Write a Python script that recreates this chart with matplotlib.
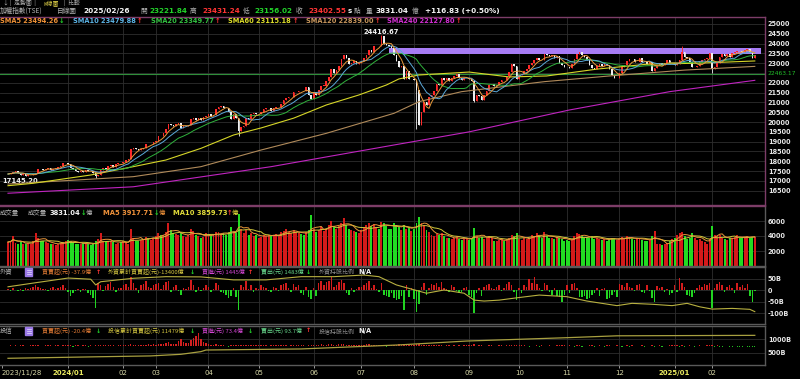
import numpy as np
import pandas as pd
import matplotlib
matplotlib.use("Agg")
import matplotlib.pyplot as plt
from matplotlib.patches import Rectangle
from matplotlib.lines import Line2D

plt.rcParams["font.family"] = ["Noto Sans CJK TC", "DejaVu Sans"]

W, H = 800, 379
PLOT_RIGHT = 765          # right edge of the plotting area, px
PX_PER_BAR = 2.506
FIRST_BAR_PX = 8.0

# trading days per month, 2023/11/28 .. 2025/02/26
MONTH_LABELS = ["2023/11/28", "", "2024/01", "02", "03", "04", "05", "06",
                "07", "08", "09", "10", "11", "12", "2025/01", "02"]
DAYS_PER_MONTH = [3, 21, 22, 13, 21, 20, 22, 19, 21, 22, 20, 19, 21, 22, 15, 18]

# daily close (加權指數)
CLOSE = [
    17350, 17390, 17434,
    17480, 17380, 17310, 17370, 17270, 17290, 17310, 17350, 17380, 17610, 17600,
    17570, 17610, 17650, 17560, 17630, 17650, 17690, 17780, 17910, 17931,
    17853, 17641, 17600, 17520, 17470, 17520, 17430, 17550, 17510, 17480, 17380,
    17230, 17320, 17560, 17680, 17630, 17760, 17790, 17700, 17860, 17900, 17890,
    17940, 18070, 18100, 18640, 18700, 18620, 18580, 18650, 18700, 18890, 18880, 18900, 18960,
    19030, 19300, 19290, 19420, 19650, 19900, 19830, 19820, 19880, 19930, 19680,
    19780, 19810, 19830, 20180, 20230, 20100, 20200, 20130, 20250, 20294,
    20400, 20320, 20340, 20670, 20790, 20800, 20740, 20700, 20520, 20140,
    20390, 20200, 19530, 19750, 19800, 20200, 20140, 20430, 20460, 20400,
    20420, 20520, 20650, 20700, 20700, 20560, 20700, 20770, 20770, 20900, 21100,
    21250, 21260, 21290, 21510, 21520, 21600, 21590, 21580, 21800, 21400, 21174,
    21540, 21360, 21640, 21860, 21860, 22110, 22320, 22680, 22500, 22630,
    22870, 23200, 23400, 23250, 22950, 23000, 23100, 22980, 23030,
    23100, 23250, 23400, 23650, 23560, 23880, 23900, 23880, 24390, 24000, 23920,
    23890, 23770, 23400, 23090, 22830, 22870, 22200, 22580, 22190, 22200,
    22120, 21640, 19830, 20500, 21020, 20880, 21260, 21370, 21570, 21920, 21880,
    22250, 22160, 22240, 22080, 22240, 22330, 22470, 22230, 22150, 22250, 22270,
    22200, 22090, 21090, 21370, 21330, 21150, 21370, 21570, 21870, 21930,
    21850, 21880, 22030, 22160, 22150, 22330, 22570, 22970, 22840, 22220,
    22400, 22450, 22600, 22700, 22900, 23030, 23170, 23290, 23160, 23140,
    23490, 23430, 23380, 23400, 23260, 23350, 23000, 22900, 22820,
    22800, 22780, 22980, 23200, 23480, 23550, 23410, 23330, 23150, 22930, 22740,
    22700, 22840, 22940, 22840, 22950, 22920, 22690, 22380, 22260, 22260,
    22500, 22800, 22900, 23120, 23200, 23190, 23070, 23070, 23260, 23060, 23050,
    22980, 23050, 22620, 22760, 22920, 23030, 22900, 23000, 23150, 22990, 23035,
    22900, 22980, 23160, 23550, 23300, 23290, 23080, 22800, 22820, 22850,
    23050, 23150, 23200, 23270, 23525,
    22694, 22800, 23000, 23300, 23480, 23380, 23450, 23330, 23520, 23550,
    23630, 23600, 23590, 23680, 23730, 23560, 23286, 23402.55,
]

# a few visible shadows: bar index, low, high
WICK_BARS = [35, 92, 149, 163, 186, 269, 281]
WICK_LOW = [17145.20, 19300, 23880, 19662, 21000, 23160, 22500]
WICK_HIGH = [17380, 19980, 24416.67, 21640, 22090, 23900, 22900]

# 成交量, in hundreds of 億
VOL_HUNDREDS = [
    32, 33, 40,
    31, 30, 32, 29, 30, 31, 30, 33, 44, 38, 34, 33, 32, 31, 30, 29, 28, 30, 31, 32, 33,
    35, 34, 31, 30, 29, 30, 31, 30, 29, 28, 30, 33, 36, 44, 33, 32, 33, 34, 32, 30, 31, 32,
    33, 32, 30, 50, 38, 34, 33, 35, 36, 39, 37, 35, 38,
    40, 44, 42, 41, 45, 57, 48, 44, 43, 42, 45, 40, 39, 41, 49, 47, 41, 40, 38, 39, 44,
    42, 40, 41, 46, 45, 43, 44, 42, 45, 52, 46, 44, 70, 50, 44, 48, 42, 44, 40, 41,
    38, 39, 42, 40, 41, 40, 42, 43, 40, 45, 47, 50, 46, 44, 48, 45, 44, 43, 41, 46, 48, 68,
    50, 46, 48, 52, 47, 50, 55, 60, 52, 50, 54, 58, 64, 55, 50, 48, 47, 46, 44,
    48, 52, 55, 58, 54, 56, 52, 50, 59, 58, 53, 50, 49, 57, 55, 52, 48, 55, 50, 52, 47,
    50, 57, 66, 58, 55, 48, 45, 42, 40, 43, 42, 44, 40, 38, 37, 36, 37, 40, 36, 35, 36, 38,
    35, 37, 51, 40, 38, 39, 36, 38, 40, 37, 34, 33, 35, 36, 33, 36, 38, 42, 40, 44,
    36, 35, 37, 36, 38, 42, 40, 44, 40, 38, 45, 40, 38, 37, 36, 39, 38, 36, 34,
    35, 33, 36, 40, 44, 43, 40, 38, 37, 38, 40, 36, 37, 36, 35, 36, 34, 36, 38, 37, 35,
    36, 39, 38, 40, 37, 36, 35, 37, 38, 35, 34, 33, 35, 40, 47, 30, 29, 28, 30, 31, 33, 36,
    38, 42, 44, 46, 40, 36, 38, 44, 38, 35, 36, 34, 32, 30, 36,
    53, 42, 40, 41, 38, 36, 35, 37, 38, 39, 41, 38, 37, 39, 40, 38, 39, 38.3104,
]

# 外資買賣超, B (10億)
FOREIGN_NET = [
    5, -3, 10,
    -2, -5, 3, -4, 8, 6, 10, 12, 20, 15, 8, 5, 6, -3, 9, 12, 5, 10, 15, 20, 8,
    -10, -25, -15, -5, 4, -8, 6, 3, -12, -20, -35, -78, 30, 22, -6, 18, 25, 35, 12, -10, 8, 10,
    20, 25, 15, 58, 30, 10, -15, 20, 25, 40, 15, 10, 22,
    25, 30, 5, 20, 35, 40, -10, 15, 20, -5, -20, 10, 5, 12, 45, 20, -8, 15, -5, 10, 20,
    15, -10, 5, 30, 20, -8, -15, -20, -35, -25, 10, -30, -85, 20, 15, 40, 5, 20, -10, 8,
    5, 20, 15, 10, -5, -10, 15, 10, -5, 20, 25, 30, 10, -10, 25, 15, 20, -15, -20, 15, -30, -40,
    10, -25, 30, 40, 20, 35, 40, 55, 15, 20, 35, 45, 30, -15, -20, 10, -10, 5, 15,
    15, 20, 30, 40, 10, 20, 5, -10, 30, -20, -25, -30, -15, -35, -45, -40, -25, -85, 20, -30, 10,
    -40, -94, -60, 15, 30, -20, 10, 25, 20, 30, 15, 35, 10, 5, -10, 20, 15, -5, -15, -10, 10, 15,
    -20, -30, -100, -15, 10, -25, 15, 20, 25, 10, 5, 15, 20, -5, 10, 25, 36, 20, -10, -45,
    10, -15, 20, 15, 48, 30, 55, 25, 10, -5, 30, 20, -10, -20, 10, -25, -30, -50, -20,
    20, -15, 25, 30, 10, -30, -30, -25, -40, -35, -20, -15, 10, -25, 5, 10, -40, -35, -20, -10, -30,
    25, 20, 15, 30, 15, 10, -5, 20, 25, -10, -15, 20, -5, -35, -50, 18, 10, 15, -10, 5, -20, -15,
    20, -10, 52, 30, 15, -20, -25, -30, -15, 10, 20, 15, 25, 20, 30,
    -78, 10, 25, 35, 20, -10, 15, 20, 10, -15, 30, 15, 20, 10, 25, -25, -50, -3.79,
]

# 外資累計 line (bar index, B on the panel scale)
FOREIGN_CUM_BAR = [0, 10, 24, 33, 35, 37, 50, 63, 77, 90, 103, 117, 130, 142, 148, 155, 160,
                   167, 174, 182, 186, 190, 196, 203, 212, 223, 231, 243, 249, 257, 265,
                   271, 276, 281, 289, 296, 298]
FOREIGN_CUM = [14, 30, 52, 47, 22, 36, 51, 58, 57, 44, 44, 58, 58, 65, 58, 22, 7,
               -14, 0, -14, -44, -48, -44, -34, -22, -29, -48, -68, -58, -62, -68,
               -58, -73, -83, -80, -84, -94]

# 投信買賣超, 億
TRUST_NET = [
    10, 15, 8,
    12, -5, 20, 15, 8, 10, 25, 18, 30, 12, 10, -8, 15, 20, 12, 10, 18, 22, 10, 15, 12,
    20, 15, -10, 12, 18, 10, 25, 12, -15, 20, 8, 15, 22, 30, 18, 12, 20, 25, 15, 10, 12, 18,
    25, 20, 15, 40, 30, 20, 15, 25, 30, 20, 35, 25, 40,
    30, 45, 35, 40, 60, 80, 50, 40, 45, 110, 150, 90, 60, 70, 120, 160, 200, 260, 140, 90, 60,
    40, 30, 25, 35, 20, 15, 25, 10, -10, 20, 15, 25, 30, 20, 15, 25, 18, 20, 12, 15,
    20, 15, 25, 18, 10, 12, 15, 20, 18, 25, 20, 15, 10, 12, 20, 15, 25, 18, 12, 10, 20, 30,
    25, 20, 30, 35, 28, 30, 40, 35, 25, 30, 45, 50, 35, 20, 25, 30, 28, 20, 25,
    30, 25, 35, 40, 30, 25, 20, 15, 30, 20, -10, 15, 25, 20, 30, 35, 28, 40, 30, 25, 20,
    30, 40, 50, 20, 15, 25, 20, 30, 18, 15, 20, 12, 10, 15, 20, 10, 12, 8, 15, 10, 12, 18,
    15, 20, 35, 10, 12, 18, 8, 10, 15, 12, 10, 8, 15, 12, 10, 18, 20, 12, 15, 30,
    20, 15, 12, 10, -15, 8, 10, 12, -10, 15, 10, 8, 12, -5, 10, 15, 12, 20, 18,
    10, 12, -8, -10, 15, 12, -12, 10, 8, 15, 12, -15, 10, 12, 8, -10, 12, 15, 10, 8, 12,
    10, -12, 8, 15, -10, 12, 8, -8, 10, 12, -15, 8, 10, 20, -12, 8, 12, -10, 8, 10, 12, 15,
    15, 12, -10, 25, -15, 10, 12, 8, -10, 10, 12, 8, 10, 12, 15,
    30, -20, 12, -15, -10, 10, 8, -12, -15, 10, -18, -10, -12, 8, -15, -20, -12, -20.4,
]

# 投信累計買賣超 (bar index, B)
TRUST_CUM_BAR = [0, 37, 57, 69, 77, 79, 117, 156, 183, 223, 243, 298]
TRUST_CUM = [291, 350, 380, 440, 540, 600, 640, 790, 935, 1060, 1130, 1147]

# long moving averages (bar index, value)
SMA60_BAR = [0, 10, 33, 50, 63, 77, 90, 101, 114, 127, 140, 151, 156, 164, 184, 200, 215, 235, 255, 275, 298]
SMA60 = [16755, 16877, 17300, 17725, 18065, 18660, 19340, 19700, 20200, 20870, 21380, 21890,
         22200, 22400, 22550, 22300, 22350, 22700, 22950, 23000, 23115.18]
SMA120_BAR = [0, 50, 77, 101, 127, 154, 164, 181, 214, 240, 270, 298]
SMA120 = [16840, 17215, 17725, 18575, 19425, 20445, 21040, 21550, 22060, 22350, 22650, 22839.00]
SMA240_BAR = [0, 50, 105, 154, 184, 224, 264, 298]
SMA240 = [16370, 16700, 17725, 18830, 19500, 20615, 21550, 22127.80]

# resistance box and support line
BOX_BARS = (152, 300.5)
BOX_PRICE = (23470, 23780)
SUPPORT = 22463.17
PEAK_HIGH = 24416.67
LOW_MARK = 17145.20

# ---------------------------------------------------------------------------
close = np.array(CLOSE, dtype=float)
n = len(close)
assert n == sum(DAYS_PER_MONTH) == len(VOL_HUNDREDS) == len(FOREIGN_NET) == len(TRUST_NET)
idx = np.arange(n)
opens = np.r_[close[0], close[:-1]]
up = close >= opens
body_lo = np.minimum(opens, close)
body_hi = np.maximum(opens, close)
lows, highs = body_lo.copy(), body_hi.copy()
for b, lo, hi in zip(WICK_BARS, WICK_LOW, WICK_HIGH):
    lows[b] = min(lows[b], lo)
    highs[b] = max(highs[b], hi)

s = pd.Series(close)
sma5 = s.rolling(5, min_periods=1).mean()
sma10 = s.rolling(10, min_periods=1).mean()
sma20 = s.rolling(20, min_periods=1).mean()

volume = np.array(VOL_HUNDREDS, dtype=float) * 100
vs = pd.Series(volume)
vma5 = vs.rolling(5, min_periods=1).mean()
vma10 = vs.rolling(10, min_periods=1).mean()

foreign = np.array(FOREIGN_NET, dtype=float)
trust = np.array(TRUST_NET, dtype=float)

month_start = np.r_[0, np.cumsum(DAYS_PER_MONTH)[:-1]]
grid_months = month_start[2:]

XLIM = ((0 - FIRST_BAR_PX) / PX_PER_BAR, (PLOT_RIGHT - FIRST_BAR_PX) / PX_PER_BAR)

GRID = "#2e2e2e"
PINK = "#7d3d68"
GRAY = "#5a5a5a"
UP_C, DN_C = "#ff2a2a", "#efefef"
VUP, VDN = "#d41a1a", "#22dc22"

fig = plt.figure(figsize=(W / 100, H / 100), dpi=100, facecolor="black")


def panel(y0, y1, border):
    ax = fig.add_axes([0, 1 - y1 / H, PLOT_RIGHT / W, (y1 - y0) / H])
    ax.set_facecolor("black")
    ax.set_xlim(*XLIM)
    ax.set_xticks(grid_months)
    ax.tick_params(axis="x", length=0, labelbottom=False)
    ax.grid(True, color=GRID, lw=0.6)
    ax.set_axisbelow(True)
    ax.yaxis.tick_right()
    ax.tick_params(axis="y", length=0, pad=2)
    for sp in ax.spines.values():
        sp.set_color(border)
        sp.set_linewidth(1.0)
    ax.spines["left"].set_visible(False)
    return ax


def yticks(ax, vals, labels, color="#e6e6e6"):
    ax.set_yticks(vals, labels, fontsize=4.7, color=color,
                  fontfamily="DejaVu Sans", fontweight="bold")


# price panel
p_of = lambda ypx: 25000 - (ypx - 24) * 50.99
axp = panel(17, 205, PINK)
axp.set_ylim(p_of(205), p_of(17))
pt = list(range(16500, 25001, 500))
# the 22500 label gives way to the support-line label
yticks(axp, pt, ["" if v == 22500 else str(v) for v in pt])

axp.fill_between(BOX_BARS, BOX_PRICE[0], BOX_PRICE[1], color="#a77cf5", lw=0, zorder=1)
axp.axhline(SUPPORT, color="#2f8f3a", lw=0.8, zorder=1)
axp.text(1.003, SUPPORT, f"{SUPPORT:.2f}", transform=axp.get_yaxis_transform(),
         color="#22c02a", fontsize=4.3, fontfamily="DejaVu Sans", va="center", ha="left")

cols = np.where(up, UP_C, DN_C)
axp.vlines(idx, lows, highs, colors=cols, lw=0.6, zorder=3)
axp.bar(idx, np.maximum(body_hi - body_lo, 12), bottom=body_lo, width=0.62,
        color=cols, lw=0, zorder=3)

axp.plot(SMA240_BAR, SMA240, color="#c024c0", lw=0.8, zorder=4)
axp.plot(SMA120_BAR, SMA120, color="#b08a5a", lw=0.8, zorder=4)
axp.plot(SMA60_BAR, SMA60, color="#d6d628", lw=0.8, zorder=4)
axp.plot(idx, sma20, color="#2fb23c", lw=0.7, zorder=4)
axp.plot(idx, sma10, color="#5aa8d8", lw=0.7, zorder=4)
axp.plot(idx, sma5, color="#e89a3a", lw=0.7, zorder=4)

peak_bar = WICK_BARS[WICK_HIGH.index(PEAK_HIGH)]
axp.text(peak_bar, PEAK_HIGH, f"{PEAK_HIGH:.2f}", color="#f2f2f2", fontsize=4.9,
         fontfamily="DejaVu Sans", fontweight="bold", ha="center", va="bottom")
axp.text(XLIM[0] + 1.0, LOW_MARK, f"{LOW_MARK:.2f}", color="#f2f2f2", fontsize=4.9,
         fontfamily="DejaVu Sans", fontweight="bold", ha="left", va="top")

# volume panel
axv = panel(206, 266, GRAY)
axv.spines["top"].set_color(PINK)
axv.set_ylim(0, 8000)
yticks(axv, [2000, 4000, 6000], ["2000", "4000", "6000"])
axv.bar(idx, volume, width=0.78, color=np.where(up, VUP, VDN), lw=0)
axv.plot(idx, vma10, color="#cfc83a", lw=0.7)
axv.plot(idx, vma5, color="#e8963a", lw=0.7)

# foreign panel
axf = panel(267, 324, GRAY)
axf.set_ylim(-147.8, 100)
yticks(axf, [50, 0, -50, -100], ["50B", "0", "-50B", "-100B"])
axf.bar(idx, foreign, width=0.6, color=np.where(foreign >= 0, "#d41c1c", "#22d422"), lw=0)
axf.plot(FOREIGN_CUM_BAR, FOREIGN_CUM, color="#b8b040", lw=0.8)

# trust panel: daily net on a hidden twin scale, cumulative on the labelled one
axt = panel(326, 365, GRAY)
axt2 = axt.twinx()
axt2.set_ylim(-380, 400)
axt2.set_yticks([])
for sp in axt2.spines.values():
    sp.set_visible(False)
axt2.bar(idx, trust, width=0.55, color=np.where(trust >= 0, "#d42020", "#20c020"), lw=0)
axt.yaxis.tick_right()
axt.set_ylim(41, 1496)
yticks(axt, [500, 1000], ["500B", "1000B"])
axt.tick_params(axis="y", length=0, pad=2, labelleft=False, labelright=True)
axt2.plot(TRUST_CUM_BAR, [(v - 41) / (1496 - 41) * 780 - 380 for v in TRUST_CUM],
          color="#a8a040", lw=0.9, zorder=3)

# date axis under the bottom panel
tick_pos = [XLIM[0] + 0.6] + list(month_start[2:])
axt.set_xticks(tick_pos)
axt.tick_params(axis="x", length=2.5, width=0.7, color="#9a9a9a", direction="out")
axt.grid(False, axis="x")
for b in grid_months:
    axt.axvline(b, color=GRID, lw=0.6, zorder=0)
for i, lab in enumerate(MONTH_LABELS):
    if not lab:
        continue
    if i == 0:
        xb, ha = XLIM[0] + 0.6, "left"
    else:
        xb, ha = month_start[i], "center"
    bold = "/" in lab and i > 0
    axt.text(xb, -0.21, lab, transform=axt.get_xaxis_transform(), ha=ha, va="center",
             fontsize=5.0, fontfamily="DejaVu Sans",
             fontweight="bold" if bold else "normal",
             color="#eaea60" if bold else "#d6d6a6")


# header and legend texts (pixel positions)
def txt(x, y, s, color, size=5.0, bold=False, num=False):
    fam = ["DejaVu Sans"] if num else ["Noto Sans CJK TC", "DejaVu Sans"]
    fig.text(x / W, 1 - y / H, s, color=color, fontsize=size, va="center", ha="left",
             fontweight="bold" if bold else "normal", family=fam)


LG = "#b4b4b4"
GRN, RED, WHT = "#22d22a", "#ff3434", "#f4f4f4"

# tab strip along the top edge
txt(2, 3.4, "↓", LG, 4.2)
txt(10, 3.4, "|  走勢圖  |", LG, 4.2)
txt(43, 3.4, "K線圖", "#e8d84a", 4.2)
txt(64, 3.4, "|  比較", LG, 4.2)

row = 11
txt(0, row, "加權指數(TSE)", LG, 4.8)
txt(57, row, "日線圖", LG, 4.8)
txt(83, row, "2025/02/26", WHT, 5.3, True, True)
txt(140, row, "開", LG, 4.8)
txt(149, row, "23221.84", GRN, 5.2, True, True)
txt(190, row, "高", LG, 4.8)
txt(202, row, "23431.24", RED, 5.2, True, True)
txt(243, row, "低", LG, 4.8)
txt(254, row, "23156.02", GRN, 5.2, True, True)
txt(296, row, "收", LG, 4.8)
txt(308, row, "23402.55", RED, 5.2, True, True)
txt(348, row, "s", WHT, 5.0, True, True)
txt(354, row, "點", LG, 4.8)
txt(366, row, "量", LG, 4.8)
txt(376, row, "3831.04", WHT, 5.2, True, True)
txt(412, row, "億", LG, 4.8)
txt(425, row, "+116.83 (+0.50%)", WHT, 5.2, True, True)

row = 21
sma_items = [
    (0, "SMA5 23494.26", "#f09236", 59, "↓", GRN),
    (73, "SMA10 23479.88", "#5cb4e6", 137, "↑", RED),
    (151, "SMA20 23349.77", "#32c240", 215, "↑", RED),
    (228, "SMA60 23115.18", "#dede2a", 293, "↑", RED),
    (306, "SMA120 22839.00", "#c8965c", 375, "↑", RED),
    (387, "SMA240 22127.80", "#d22ed2", 456, "↑", RED),
]
for x, s_, c, xa, arr, ca in sma_items:
    txt(x, row, s_, c, 4.8, True, True)
    txt(xa, row, arr, ca, 4.8, True, True)

row = 213
txt(0, row, "成交量", LG, 4.6)
txt(28, row, "成交量", LG, 4.6)
txt(50, row, "3831.04", WHT, 4.9, True, True)
txt(81, row, "↓", GRN, 4.8, True, True)
txt(86, row, "億", LG, 4.6)
txt(103, row, "MA5 3917.71", "#f0923a", 4.9, True, True)
txt(154, row, "↓", GRN, 4.8, True, True)
txt(159, row, "億", "#f0923a", 4.6)
txt(173, row, "MA10 3859.73", "#e2dc3a", 4.9, True, True)
txt(227, row, "↑", RED, 4.8, True, True)
txt(232, row, "億", "#e2dc3a", 4.6)


def icon(y):
    fig.add_artist(Rectangle((25 / W, 1 - (y + 4) / H), 7 / W, 8 / H,
                             transform=fig.transFigure, color="#9a78e6"))
    for dy in (-2, 0, 2):
        fig.add_artist(Line2D([27 / W, 31 / W], [1 - (y + dy) / H] * 2,
                              transform=fig.transFigure, color="#e8e0ff", lw=0.5))


for row, who, net, na, cum, ca, buy, ba, sell, sa in [
    (272, "外資", "買賣超(元) -37.9億", ("↑", RED), "外資累計買賣超(元)-13400億", ("↓", GRN),
     "買進(元) 1445億", ("↑", RED), "賣出(元) 1483億", ("↓", GRN)),
    (331, "投信", "買賣超(元) -20.4億", ("↓", GRN), "投信累計買賣超(元) 11479億", ("↓", GRN),
     "買進(元) 73.4億", ("↓", GRN), "賣出(元) 93.7億", ("↑", RED)),
]:
    txt(0, row, who, LG, 4.6)
    icon(row)
    txt(42, row, net, "#e07a34", 4.3)
    txt(96, row, na[0], na[1], 4.6, True, True)
    txt(108, row, cum, "#d2c440", 4.3)
    txt(190, row, ca[0], ca[1], 4.6, True, True)
    txt(202, row, buy, "#d246d2", 4.3)
    txt(248, row, ba[0], ba[1], 4.6, True, True)
    txt(261, row, sell, "#66d48a", 4.3)
    txt(306, row, sa[0], sa[1], 4.6, True, True)
    txt(319, row, who + "持股比例", "#8e8e8e", 4.3)
    txt(358, row, "N/A", WHT, 4.8, True, True)

fig.savefig("out.png", dpi=100, facecolor="black")
